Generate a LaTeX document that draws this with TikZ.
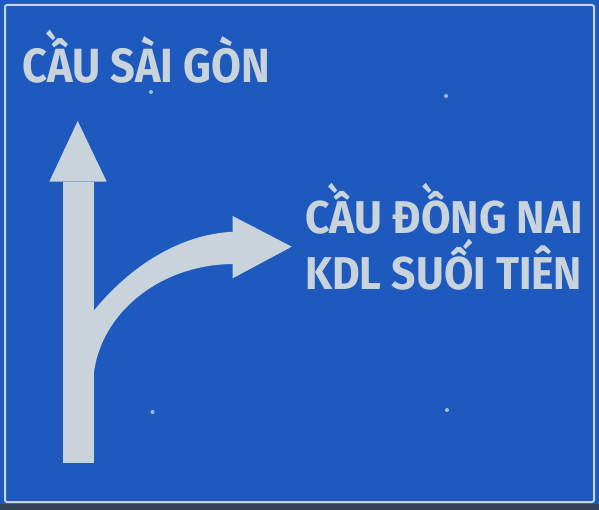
\documentclass[tikz,border=0pt]{standalone}
\usepackage{fontspec}
\usepackage{graphicx}
\usepackage{tikz}
\setmainfont{Fira Sans}
\definecolor{signblue}{HTML}{1E5ABE}
\definecolor{signwhite}{HTML}{C9D3DC}
\definecolor{signedge}{HTML}{34425C}
\newcommand{\fitline}[2]{\resizebox{#1}{\height}{#2}}

\begin{document}
\begin{tikzpicture}[x=1pt,y=-1pt]
\tikzstyle{panel}=[fill=signblue];
\tikzstyle{frame}=[draw=signwhite,line width=2pt,rounded corners=2pt];
\tikzstyle{sym}=[fill=signwhite];
\tikzstyle{bolt}=[fill=signwhite!80!signblue];
\tikzstyle{dest}=[text=signwhite,inner sep=0pt,anchor=base west,font=\bfseries\fontsize{46}{48}\selectfont];
\useasboundingbox (0,0) rectangle (599,510);
\fill [panel] (0,0) rectangle (599,510);
\fill [signedge] (0,504) rectangle (599,510);
\draw [frame] (5,5) rectangle (594,502);

% straight arrow
\fill [sym] (63.3,182) rectangle (94,463);
\fill [sym] (49.3,181.7) -- (77.7,121) -- (106.7,181.7) -- cycle;
% branch to the right
\fill [sym] (93,311.7) .. controls (130,266) and (180,234) .. (234,231.7)
  -- (234,264) .. controls (156.1,264) and (93,318.9) .. (93,386.7) -- cycle;
\fill [sym] (232.7,216) -- (291.7,246.7) -- (232.7,278.3) -- cycle;

\node [dest,font=\bfseries\fontsize{48}{50}\selectfont] (saigon) at (22,83) {\fitline{248pt}{CẦU SÀI GÒN}};
\node [dest] (dongnai) at (305,233.3) {\fitline{278pt}{CẦU ĐỒNG NAI}};
\node [dest] (suoitien) at (305,290) {\fitline{277pt}{KDL SUỐI TIÊN}};

\fill [bolt] (151,92) circle (2);
\fill [bolt] (446,96) circle (2);
\fill [bolt] (152.5,412) circle (2);
\fill [bolt] (447,410) circle (2);
\end{tikzpicture}
\end{document}
